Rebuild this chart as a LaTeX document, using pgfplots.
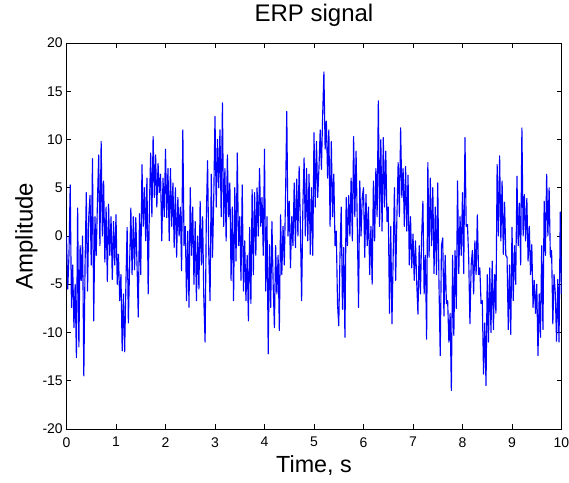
\documentclass[border=0pt]{standalone}
\usepackage{pgfplots}
\pgfplotsset{compat=1.18}
\usepackage{fontspec}
\setmainfont{Liberation Sans}
\begin{document}
\begin{tikzpicture}
\begin{axis}[name=ax, scale only axis, width=371.25pt, height=289.5pt,
 xmin=0, xmax=10, ymin=-20, ymax=20,
 xtick={0,1,2,3,4,5,6,7,8,9,10}, ytick={-20,-15,-10,-5,0,5,10,15,20},
 tick align=inside, major tick length=3.75pt,
 axis line style={line width=0.6pt},
 every tick/.style={black, line width=0.5pt},
 /pgf/number format/assume math mode=true,
 ticklabel style={font=\fontsize{10.5}{12}\selectfont, inner sep=0pt},
 xticklabel style={yshift=-6pt},
 yticklabel style={xshift=-2.6pt},
 title={ERP signal},
 title style={at={(axis description cs:0.5,1.0337)}, anchor=base, inner sep=0pt, font=\fontsize{18}{20}\selectfont},
 xlabel={Time, s},
 xlabel style={at={(axis description cs:0.5,-0.0674)}, anchor=north, inner sep=0pt, font=\fontsize{17.5}{20}\selectfont},
 ylabel={Amplitude},
 ylabel style={at={(axis description cs:-0.104,0.5)}, anchor=north, inner sep=0pt, font=\fontsize{18}{20}\selectfont},
]
\addplot[color=blue, line width=0.85pt, line join=round, mark=none] coordinates {
(0,0) (0.025,-5.5) (0.05,-2) (0.075,5.3)
(0.1,-7.4) (0.125,-3) (0.15,-9.5) (0.175,-5)
(0.2,-12.6) (0.225,2.9) (0.25,-11.5) (0.275,-1)
(0.3,-4.6) (0.325,0) (0.35,-14.5) (0.375,-3)
(0.4,4.5) (0.425,-5.7) (0.45,2) (0.475,4.2)
(0.5,-3) (0.525,8) (0.55,-8.8) (0.575,2)
(0.6,-2) (0.625,3.5) (0.65,8.4) (0.675,-1)
(0.7,9.8) (0.725,0) (0.75,5.7) (0.775,-2.7)
(0.8,3) (0.825,-4.7) (0.85,3.3) (0.875,-2)
(0.9,2) (0.925,-4.5) (0.95,1.5) (0.975,-3)
(1.0,2.2) (1.025,-5) (1.05,-1.9) (1.075,-6.7)
(1.1,-4) (1.125,-11.9) (1.15,-6) (1.175,-12)
(1.2,-5) (1.225,0.9) (1.25,-9) (1.275,-3)
(1.3,2.9) (1.325,-4) (1.35,2) (1.375,-3.5)
(1.4,1.9) (1.425,-3) (1.45,-8.4) (1.475,2.3)
(1.5,-4) (1.525,7.4) (1.55,1) (1.575,5)
(1.6,-0.5) (1.625,6) (1.65,-6) (1.675,3)
(1.7,8.6) (1.725,2) (1.75,10.3) (1.775,4)
(1.8,8.4) (1.825,3) (1.85,7.5) (1.875,4.5)
(1.9,6.4) (1.925,-0.5) (1.95,6) (1.975,2)
(2.0,9) (2.025,1.9) (2.05,7) (2.075,-0.5)
(2.1,7) (2.125,1) (2.15,5.5) (2.175,-1.2)
(2.2,5) (2.225,-2.2) (2.25,4) (2.275,0)
(2.3,3) (2.325,-3.6) (2.35,11) (2.375,-1)
(2.4,1) (2.425,-6.7) (2.45,0.5) (2.475,-7.4)
(2.5,5) (2.525,-2) (2.55,3) (2.575,-5)
(2.6,1.5) (2.625,-6.7) (2.65,0) (2.675,-5.5)
(2.7,3.6) (2.725,-3) (2.75,2) (2.775,-6.7)
(2.8,-11) (2.825,2) (2.85,7.8) (2.875,-2)
(2.9,-6.7) (2.925,6.4) (2.95,-2.2) (2.975,4)
(3.0,12.4) (3.025,3) (3.05,10) (3.075,5)
(3.1,11) (3.125,2) (3.15,13.8) (3.175,1)
(3.2,7) (3.225,-0.5) (3.25,8.4) (3.275,2)
(3.3,5.5) (3.325,-4.6) (3.35,3) (3.375,-6.7)
(3.4,5) (3.425,-2.6) (3.45,8.6) (3.475,-1)
(3.5,2) (3.525,-4.6) (3.55,5.3) (3.575,-5.7)
(3.6,-0.5) (3.625,-6.7) (3.65,-2) (3.675,-8.8)
(3.7,0.9) (3.725,-7) (3.75,4.8) (3.775,-4)
(3.8,4.5) (3.825,-2) (3.85,5) (3.875,0)
(3.9,7) (3.925,1) (3.95,4) (3.975,-2)
(4.0,9) (4.025,-5.7) (4.05,2) (4.075,-12.2)
(4.1,-0.9) (4.125,-7.4) (4.15,1.5) (4.175,-5)
(4.2,-9.5) (4.225,-1) (4.25,-6) (4.275,-2)
(4.3,-9.8) (4.325,2.2) (4.35,-4) (4.375,1)
(4.4,-3) (4.425,4) (4.45,12.9) (4.475,0)
(4.5,3.6) (4.525,-3.3) (4.55,2) (4.575,-1)
(4.6,5.5) (4.625,-1.2) (4.65,5.9) (4.675,0)
(4.7,7.2) (4.725,1) (4.75,-6.7) (4.775,3)
(4.8,8.1) (4.825,0) (4.85,7) (4.875,-0.5)
(4.9,6.4) (4.925,-1.9) (4.95,5) (4.975,-2)
(5.0,10.7) (5.025,3) (5.05,9.8) (5.075,4)
(5.1,7) (5.125,11) (5.15,6.9) (5.175,12.5)
(5.2,17) (5.225,9) (5.25,11.9) (5.275,6)
(5.3,11) (5.325,1) (5.35,9.8) (5.375,2)
(5.4,6.4) (5.425,-1) (5.45,0.5) (5.475,-7)
(5.5,-9.3) (5.525,-2) (5.55,3) (5.575,-7.6)
(5.6,-1.2) (5.625,-10.5) (5.65,4) (5.675,-1)
(5.7,4.2) (5.725,0) (5.75,6) (5.775,-0.5)
(5.8,10.3) (5.825,2) (5.85,8.8) (5.875,1)
(5.9,-7.4) (5.925,5.7) (5.95,0) (5.975,4)
(6.0,5) (6.025,-2.2) (6.05,4.3) (6.075,-1)
(6.1,3) (6.125,-4) (6.15,1) (6.175,-5)
(6.2,5.7) (6.225,-0.5) (6.25,7) (6.275,2)
(6.3,14) (6.325,1) (6.35,10) (6.375,0.5)
(6.4,10.2) (6.425,3) (6.45,8.8) (6.475,1.5)
(6.5,3) (6.525,-8) (6.55,1) (6.575,-9.1)
(6.6,-2) (6.625,5) (6.65,-4.6) (6.675,2)
(6.7,7.6) (6.725,2) (6.75,11.2) (6.775,4)
(6.8,7) (6.825,1) (6.85,7.2) (6.875,0.5)
(6.9,6.3) (6.925,-3) (6.95,2) (6.975,-3.3)
(7.0,0.2) (7.025,-4.6) (7.05,-0.5) (7.075,-4.8)
(7.1,-8.1) (7.125,-1) (7.15,-6) (7.175,0)
(7.2,3.6) (7.225,-6) (7.25,-2) (7.275,-10.7)
(7.3,7.6) (7.325,-2.2) (7.35,6) (7.375,-1)
(7.4,5) (7.425,-3.9) (7.45,3) (7.475,-4)
(7.5,5.5) (7.525,-5) (7.55,-12.4) (7.575,-1)
(7.6,-0.2) (7.625,-8.3) (7.65,-2) (7.675,-7)
(7.7,-6.7) (7.725,-11) (7.75,-8) (7.775,-16)
(7.8,-2) (7.825,-10.3) (7.85,-1.5) (7.875,-7.5)
(7.9,5.7) (7.925,-3.9) (7.95,2) (7.975,-2)
(8.0,4.5) (8.025,-3.9) (8.05,10.2) (8.075,1)
(8.1,1.2) (8.125,-2.2) (8.15,-9.1) (8.175,-3)
(8.2,-1.5) (8.225,-6) (8.25,-0.5) (8.275,-4)
(8.3,2.2) (8.325,-4) (8.35,-3.3) (8.375,-7)
(8.4,-6.7) (8.425,-14.3) (8.45,-9) (8.475,-15.5)
(8.5,-4) (8.525,-11) (8.55,-3.3) (8.575,-10)
(8.6,-2.6) (8.625,-9.7) (8.65,-4) (8.675,-8)
(8.7,7.4) (8.725,0) (8.75,8.3) (8.775,-0.5)
(8.8,5.7) (8.825,-1.9) (8.85,3.5) (8.875,-2)
(8.9,-2.2) (8.925,-9.7) (8.95,-3) (8.975,-10.2)
(9.0,0.9) (9.025,-6.7) (9.05,-1) (9.075,-5)
(9.1,6.2) (9.125,-1) (9.15,3.4) (9.175,-3)
(9.2,11.2) (9.225,0) (9.25,4.3) (9.275,-0.5)
(9.3,3.9) (9.325,-2.6) (9.35,1) (9.375,-4)
(9.4,-0.9) (9.425,-7.4) (9.45,-4.6) (9.475,-8)
(9.5,-5) (9.525,-12.4) (9.55,-6) (9.575,-10.5)
(9.6,-1) (9.625,-9.7) (9.65,3.6) (9.675,-2)
(9.7,6.4) (9.725,0) (9.75,5) (9.775,-2.2)
(9.8,-1.5) (9.825,-9.1) (9.85,-4) (9.875,-6)
(9.9,-10.9) (9.925,-4.5) (9.95,-11) (9.975,2.5)
(10,-6)
};
\end{axis}
\pgfresetboundingbox
\path[use as bounding box] (ax.south west) ++(-49.875pt,-40.5pt) rectangle ++(426.75pt,362.25pt);
\end{tikzpicture}
\end{document}
